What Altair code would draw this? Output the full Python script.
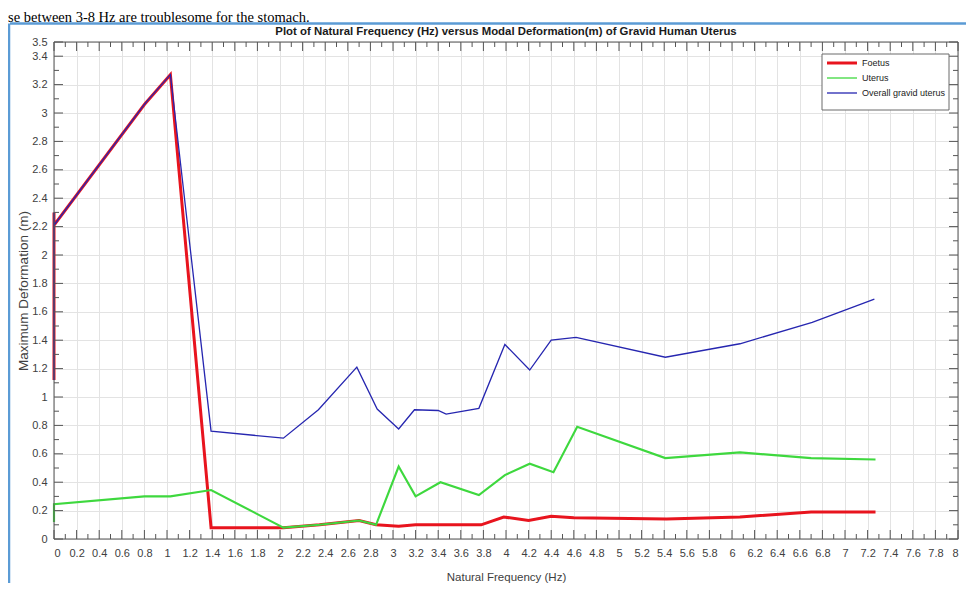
import altair as alt
import pandas as pd

# ---------------- data ----------------
foetus_x = [0, 0, 0, 0.80, 1.03, 1.39, 2.03, 2.35, 2.70, 2.85, 3.05, 3.20, 3.78, 3.98, 4.20, 4.40, 4.60, 5.42, 6.07, 6.70, 7.27]
foetus_y = [1.12, 2.30, 2.21, 3.06, 3.27, 0.08, 0.08, 0.10, 0.13, 0.10, 0.09, 0.10, 0.10, 0.155, 0.13, 0.16, 0.15, 0.14, 0.155, 0.19, 0.19]

uterus_x = [0, 0, 0.80, 1.03, 1.39, 2.03, 2.35, 2.70, 2.85, 3.05, 3.20, 3.42, 3.76, 3.99, 4.21, 4.42, 4.63, 5.41, 6.07, 6.70, 7.27]
uterus_y = [0.12, 0.245, 0.30, 0.30, 0.345, 0.08, 0.10, 0.13, 0.10, 0.51, 0.30, 0.40, 0.31, 0.45, 0.53, 0.47, 0.79, 0.57, 0.61, 0.57, 0.56]

overall_x = [0, 0, 0, 0.80, 0.82, 1.03, 1.39, 2.03, 2.34, 2.68, 2.86, 3.05, 3.19, 3.40, 3.47, 3.76, 3.99, 4.21, 4.40, 4.62, 5.41, 6.07, 6.71, 7.26]
overall_y = [1.12, 2.30, 2.21, 3.06, 3.08, 3.27, 0.76, 0.71, 0.91, 1.21, 0.915, 0.775, 0.91, 0.905, 0.88, 0.92, 1.37, 1.19, 1.40, 1.42, 1.28, 1.375, 1.525, 1.69]

series_names = ["Foetus", "Uterus", "Overall gravid uterus"]
series_colors = ["#e8141e", "#3ed83e", "#2626b0"]
series_widths = [3.0, 1.3, 1.3]

x_ticks = [round(i * 0.2, 1) for i in range(41)]
x_minor = [round(0.1 + i * 0.2, 1) for i in range(40)]
y_ticks = [round(i * 0.2, 1) for i in range(18)] + [3.5]
y_minor = [round(0.1 + i * 0.2, 1) for i in range(17)]

title_text = "Plot of Natural Frequency (Hz) versus Modal Deformation(m) of Gravid Human Uterus"
x_title = "Natural Frequency (Hz)"
y_title = "Maximum Deformation (m)"
page_text = "se between 3-8 Hz are troublesome for the stomach."

# ---------------- build ----------------
rows = []
for name, xs_, ys_ in [("Foetus", foetus_x, foetus_y), ("Uterus", uterus_x, uterus_y),
                       ("Overall gravid uterus", overall_x, overall_y)]:
    for i, (a, b) in enumerate(zip(xs_, ys_)):
        rows.append({"series": name, "freq": a, "deform": b, "idx": i})
df = pd.DataFrame(rows)

W, H = 904, 497
FONT = "Liberation Sans Narrow, Arial Narrow, Liberation Sans, Arial, sans-serif"
AX = "#555555"
LBL = "#404040"

xs = alt.Scale(domain=[0, 8], nice=False, zero=False)
ys = alt.Scale(domain=[0, 3.5], nice=False, zero=False)

x_axis = alt.Axis(values=x_ticks, format=".1~f", grid=True, gridColor="#e3e3e3",
                  tickSize=0, domain=False, labelPadding=8, labelFontSize=11,
                  labelFont=FONT, labelColor=LBL, titleFont=FONT, titleFontSize=11.5,
                  titleFontWeight="normal", titleColor=LBL, titlePadding=13)
y_axis = alt.Axis(values=y_ticks, format=".1~f", grid=True, gridColor="#e3e3e3",
                  tickSize=0, domain=False, labelPadding=7, labelFontSize=11,
                  labelFont=FONT, labelColor=LBL, titleFont=FONT, titleFontSize=13.5,
                  titleFontWeight="normal", titleColor=LBL, titlePadding=1)

lines = alt.Chart(df).mark_line(strokeJoin="miter").encode(
    x=alt.X("freq:Q", scale=xs, title=x_title, axis=x_axis),
    y=alt.Y("deform:Q", scale=ys, title=y_title, axis=y_axis),
    color=alt.Color("series:N", scale=alt.Scale(domain=series_names, range=series_colors), legend=None),
    strokeWidth=alt.StrokeWidth("series:N", scale=alt.Scale(domain=series_names, range=series_widths), legend=None),
    order=alt.Order("idx:Q"),
)

one = pd.DataFrame({"a": [0]})
frame = alt.Chart(one).mark_rect(fillOpacity=0, stroke=AX, strokeWidth=1).encode(
    x=alt.value(0), x2=alt.value(W), y=alt.value(0), y2=alt.value(H))

def xt(vals, length, top):
    d = pd.DataFrame({"t": vals})
    if top:
        yy, yy2 = 0, length
    else:
        yy, yy2 = H, H - length
    return alt.Chart(d).mark_rule(color=AX, strokeWidth=1).encode(
        x=alt.X("t:Q", scale=xs, title=x_title, axis=x_axis), y=alt.value(yy), y2=alt.value(yy2))

def yt(vals, length, right):
    d = pd.DataFrame({"t": vals})
    if right:
        xx, xx2 = W, W - length
    else:
        xx, xx2 = 0, length
    return alt.Chart(d).mark_rule(color=AX, strokeWidth=1).encode(
        y=alt.Y("t:Q", scale=ys, title=y_title, axis=y_axis), x=alt.value(xx), x2=alt.value(xx2))

ticks = [xt(x_ticks, 9, False), xt(x_minor, 5, False), xt(x_ticks, 9, True), xt(x_minor, 5, True),
         yt(y_ticks, 9, False), yt(y_minor, 5, False), yt(y_ticks, 9, True), yt(y_minor, 5, True)]

# legend (drawn by hand, MATLAB style)
LX, LY = 768, 12
legend_box = alt.Chart(one).mark_rect(fill="white", stroke="#6a6a6a", strokeWidth=1).encode(
    x=alt.value(LX), x2=alt.value(LX + 127), y=alt.value(LY), y2=alt.value(LY + 56))
leg_layers = [legend_box]
for i, (n, c, w) in enumerate(zip(series_names, series_colors, series_widths)):
    yy = LY + 9 + i * 15
    leg_layers.append(alt.Chart(one).mark_rule(color=c, strokeWidth=w).encode(
        x=alt.value(LX + 5), x2=alt.value(LX + 35), y=alt.value(yy)))
    leg_layers.append(alt.Chart(one).mark_text(text=n, align="left", baseline="middle",
                                               font=FONT, fontSize=9, color="#222222").encode(
        x=alt.value(LX + 40), y=alt.value(yy)))

# title as a text mark (fixed position above the plot)
title_mark = alt.Chart(one).mark_text(text=title_text, align="center", baseline="alphabetic",
                                      font=FONT, fontSize=11.4, fontWeight="bold",
                                      color="#1a1a1a").encode(
    x=alt.value(W / 2), y=alt.value(-7))

# document frame and the sentence above the figure
BLUE = "#5b9bd5"
doc_top = alt.Chart(one).mark_rule(color=BLUE, strokeWidth=2.5).encode(
    x=alt.value(-44), x2=alt.value(W + 20), y=alt.value(-18.5))
doc_left = alt.Chart(one).mark_rule(color=BLUE, strokeWidth=2.5).encode(
    x=alt.value(-45), y=alt.value(-18.5), y2=alt.value(H + 60))
doc_text = alt.Chart(one).mark_text(text=page_text, align="left", baseline="alphabetic",
                                    font="Liberation Serif, Times New Roman, serif",
                                    fontSize=14.5, color="#000000").encode(
    x=alt.value(-46), y=alt.value(-20.5))

chart = alt.layer(lines, frame, *ticks, *leg_layers, title_mark, doc_top, doc_left, doc_text).properties(
    width=W, height=H,
    autosize=alt.AutoSizeParams(type="none"),
    padding={"left": 46, "top": 34, "right": 8, "bottom": 44},
).configure_view(stroke=None).configure(background="white")

chart.save("out.html", embed_options={"renderer": "svg", "actions": False})
